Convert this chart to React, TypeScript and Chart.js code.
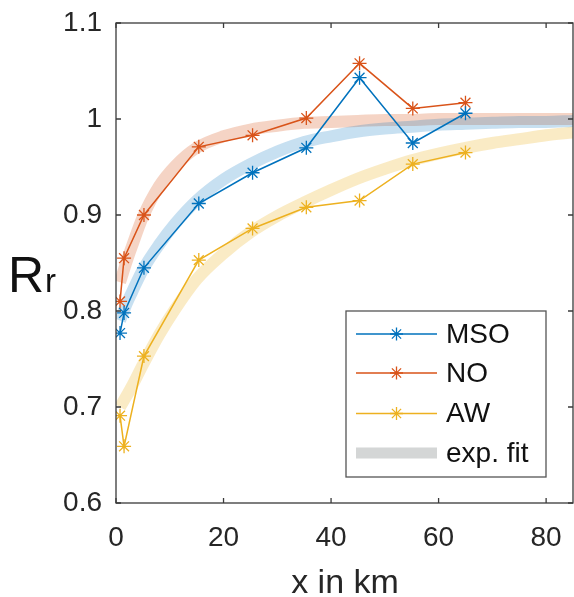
import React, { useEffect, useRef } from 'react';
import { Chart, registerables } from 'chart.js';

Chart.register(...registerables);

// ---- data ----
const xData = [0.75, 1.5, 5.2, 15.4, 25.4, 35.4, 45.3, 55.2, 65.0];
const msoValues = [0.777, 0.798, 0.845, 0.912, 0.944, 0.970, 1.043, 0.975, 1.006];
const noValues = [0.810, 0.855, 0.900, 0.971, 0.983, 1.001, 1.058, 1.011, 1.017];
const awValues = [0.691, 0.659, 0.753, 0.853, 0.886, 0.908, 0.915, 0.953, 0.965];

const fitX = [0.75, 2, 3, 5, 8, 11, 15, 20, 25, 30, 35, 40, 45, 50, 55, 60, 65, 70, 75, 80, 85];
const msoFit = [0.790, 0.808, 0.820, 0.843, 0.869, 0.891, 0.915, 0.937, 0.953, 0.966, 0.976, 0.982, 0.987, 0.990, 0.992, 0.994, 0.995, 0.996, 0.997, 0.997, 0.998];
const noFit = [0.830, 0.852, 0.868, 0.898, 0.930, 0.951, 0.970, 0.982, 0.989, 0.993, 0.996, 0.997, 0.998, 0.999, 0.999, 1.0, 1.0, 1.0, 1.0, 1.0, 1.0];
const awFit = [0.700, 0.712, 0.722, 0.744, 0.775, 0.802, 0.833, 0.860, 0.882, 0.899, 0.913, 0.926, 0.938, 0.948, 0.957, 0.964, 0.970, 0.975, 0.979, 0.983, 0.986];

const seriesNames = ['MSO', 'NO', 'AW'];
const fitName = 'exp. fit';
const xTicks = [0, 20, 40, 60, 80];
const yTicks = [0.6, 0.7, 0.8, 0.9, 1.0, 1.1];
const yTickLabels = ['0.6', '0.7', '0.8', '0.9', '1', '1.1'];
const xTitle = 'x in km';
const yTitleMain = 'R';
const yTitleSub = 'r';

const FONT = '"Liberation Sans", Arial, Helvetica, sans-serif';
const COLORS = ['#0072BD', '#D95319', '#EDB120'];
const FIT_COLORS = ['rgba(0,114,189,0.22)', 'rgba(217,83,25,0.25)', 'rgba(237,177,32,0.26)'];
const AXIS_COLOR = '#3a3a3a';
const TEXT_COLOR = '#262626';

function drawStar(ctx: CanvasRenderingContext2D, x: number, y: number, r: number, color: string) {
  ctx.save();
  ctx.strokeStyle = color;
  ctx.lineWidth = 1.3;
  ctx.beginPath();
  ctx.moveTo(x - r, y); ctx.lineTo(x + r, y);
  ctx.moveTo(x, y - r); ctx.lineTo(x, y + r);
  const d = r * Math.SQRT1_2;
  ctx.moveTo(x - d, y - d); ctx.lineTo(x + d, y + d);
  ctx.moveTo(x - d, y + d); ctx.lineTo(x + d, y - d);
  ctx.stroke();
  ctx.restore();
}

const zeroPad = (s: any) => {
  s.paddingLeft = 0;
  s.paddingRight = 0;
  s.paddingTop = 0;
  s.paddingBottom = 0;
};

const decorPlugin = {
  id: 'decor',
  afterDraw(chart: any) {
    const ctx: CanvasRenderingContext2D = chart.ctx;
    const { left, right, top, bottom } = chart.chartArea;
    const xs = chart.scales.x;
    const ys = chart.scales.y;
    ctx.save();
    // box
    ctx.strokeStyle = AXIS_COLOR;
    ctx.lineWidth = 1.3;
    ctx.strokeRect(left, top, right - left, bottom - top);
    // ticks inside
    const tl = 5;
    ctx.beginPath();
    xTicks.forEach((v) => {
      const px = xs.getPixelForValue(v);
      ctx.moveTo(px, bottom); ctx.lineTo(px, bottom - tl);
      ctx.moveTo(px, top); ctx.lineTo(px, top + tl);
    });
    yTicks.forEach((v) => {
      const py = ys.getPixelForValue(v);
      ctx.moveTo(left, py); ctx.lineTo(left + tl, py);
      ctx.moveTo(right, py); ctx.lineTo(right - tl, py);
    });
    ctx.stroke();

    // legend
    const lx = 346, ly = 311, lw = 200, lh = 166;
    ctx.fillStyle = '#ffffff';
    ctx.fillRect(lx, ly, lw, lh);
    ctx.strokeStyle = '#555555';
    ctx.lineWidth = 1.3;
    ctx.strokeRect(lx, ly, lw, lh);
    const rowY = [334, 373, 413.5, 453];
    const x0 = 356, x1 = 437, tx = 446;
    ctx.font = `28px ${FONT}`;
    ctx.textBaseline = 'middle';
    ctx.textAlign = 'left';
    seriesNames.forEach((name, i) => {
      ctx.strokeStyle = COLORS[i];
      ctx.lineWidth = 1.3;
      ctx.beginPath();
      ctx.moveTo(x0, rowY[i]); ctx.lineTo(x1, rowY[i]);
      ctx.stroke();
      drawStar(ctx, (x0 + x1) / 2, rowY[i], 6.5, COLORS[i]);
      ctx.fillStyle = '#111111';
      ctx.fillText(name, tx, rowY[i] + 1);
    });
    ctx.strokeStyle = 'rgb(212,214,214)';
    ctx.lineWidth = 11;
    ctx.beginPath();
    ctx.moveTo(x0, rowY[3]); ctx.lineTo(x1, rowY[3]);
    ctx.stroke();
    ctx.fillStyle = '#111111';
    ctx.fillText(fitName, tx, rowY[3] + 1);

    // x title
    ctx.fillStyle = TEXT_COLOR;
    ctx.font = `34px ${FONT}`;
    ctx.textAlign = 'center';
    ctx.textBaseline = 'alphabetic';
    ctx.fillText(xTitle, 345, 593);

    // y title
    ctx.textAlign = 'left';
    ctx.fillStyle = '#111111';
    ctx.font = `50px ${FONT}`;
    ctx.fillText(yTitleMain, 8, 292);
    const w = ctx.measureText(yTitleMain).width;
    ctx.font = `33px ${FONT}`;
    ctx.fillText(yTitleSub, 8 + w + 1, 292);
    ctx.restore();
  },
};

export default function App() {
  const ref = useRef<HTMLCanvasElement | null>(null);
  useEffect(() => {
    document.body.style.margin = '0';
    const canvas = ref.current;
    if (!canvas) return;
    const lineSets = [msoValues, noValues, awValues].map((vals, i) => ({
      label: seriesNames[i],
      data: xData.map((x, j) => ({ x, y: vals[j] })),
      borderColor: COLORS[i],
      backgroundColor: COLORS[i],
      borderWidth: 1.5,
      pointStyle: 'star',
      pointRadius: 7,
      pointBorderWidth: 1.3,
      pointBorderColor: COLORS[i],
      fill: false,
      tension: 0,
    }));
    const fitSets = [msoFit, noFit, awFit].map((vals, i) => ({
      label: fitName + ' ' + seriesNames[i],
      data: fitX.map((x, j) => ({ x, y: vals[j] })),
      borderColor: FIT_COLORS[i],
      backgroundColor: FIT_COLORS[i],
      borderWidth: 12,
      pointRadius: 0,
      fill: false,
      tension: 0.4,
      cubicInterpolationMode: 'monotone',
    }));
    const chart = new Chart(canvas, {
      type: 'line',
      data: { datasets: [...lineSets, ...fitSets] as any },
      options: {
        animation: false,
        responsive: false,
        maintainAspectRatio: false,
        layout: { autoPadding: false, padding: { top: 23, right: 1, left: 0, bottom: 0 } },
        plugins: { legend: { display: false }, tooltip: { enabled: false } },
        scales: {
          x: {
            type: 'linear',
            min: 0,
            max: 85,
            grid: { display: false, drawTicks: false },
            border: { display: false },
            afterBuildTicks: (s: any) => { s.ticks = xTicks.map((v) => ({ value: v })); },
            afterFit: (s: any) => { s.height = 94; zeroPad(s); },
            ticks: {
              font: { family: FONT, size: 28 },
              color: TEXT_COLOR,
              padding: 18,
              maxRotation: 0,
              autoSkip: false,
              callback: (v: any) => String(v),
            },
          },
          y: {
            type: 'linear',
            min: 0.6,
            max: 1.1,
            grid: { display: false, drawTicks: false },
            border: { display: false },
            afterBuildTicks: (s: any) => { s.ticks = yTicks.map((v) => ({ value: v })); },
            afterFit: (s: any) => { s.width = 116; zeroPad(s); },
            ticks: {
              font: { family: FONT, size: 28 },
              color: TEXT_COLOR,
              padding: 14,
              autoSkip: false,
              callback: (_v: any, i: number) => yTickLabels[i],
            },
          },
        },
      } as any,
      plugins: [decorPlugin],
    });
    return () => chart.destroy();
  }, []);
  return <canvas ref={ref} width={574} height={597} style={{ display: 'block' }} />;
}
